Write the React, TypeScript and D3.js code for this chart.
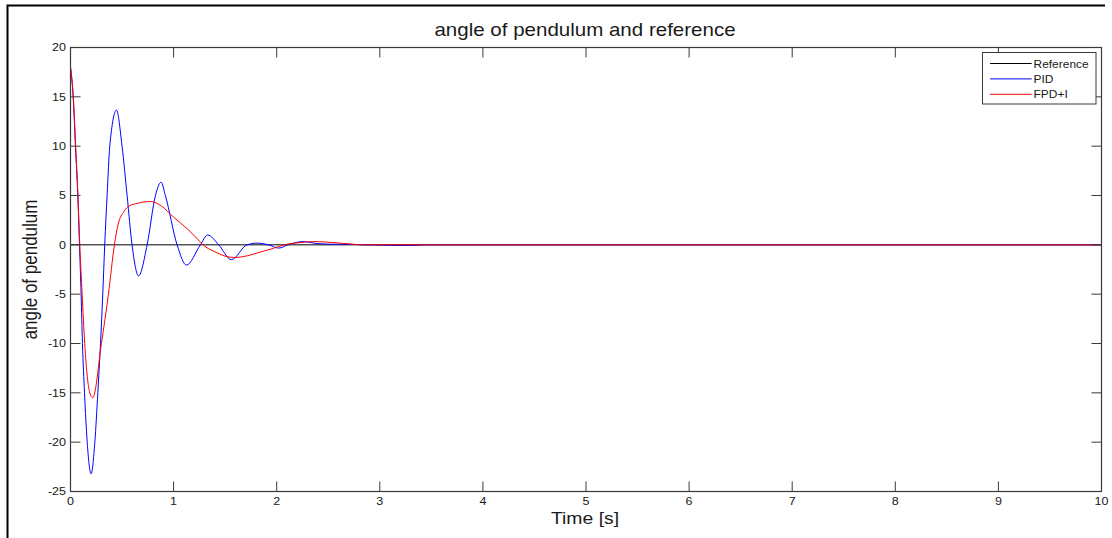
import React from "react";
import * as d3 from "d3";

const title = "angle of pendulum and reference";
const xLabel = "Time [s]";
const yLabel = "angle of pendulum";
const xTicks = [0, 1, 2, 3, 4, 5, 6, 7, 8, 9, 10];
const yTicks = [-25, -20, -15, -10, -5, 0, 5, 10, 15, 20];
const legendNames = ["Reference", "PID", "FPD+I"];

const refTime = [0, 10];
const refAngle = [0, 0];

const pidTime = [0, 0.026, 0.048, 0.071, 0.087, 0.103, 0.116, 0.136, 0.162, 0.2, 0.236, 0.265, 0.291, 0.313, 0.332, 0.355, 0.381, 0.446, 0.5, 0.549, 0.597, 0.66, 0.743, 0.824, 0.879, 0.92, 1.034, 1.124, 1.26, 1.33, 1.437, 1.56, 1.712, 1.81, 1.92, 2.02, 2.11, 2.255, 2.4, 2.55, 2.7, 2.85, 3.0, 3.1, 3.35, 3.42, 10];
const pidAngle = [18, 15, 10, 5, 0, -5, -10, -15, -20, -23.2, -20, -15, -10, -5, 0, 5, 10, 13.65, 10, 5, 0, -3.15, 0, 5, 6.35, 5, 0, -2.05, 0, 1.0, 0, -1.5, 0, 0.17, 0, -0.33, 0, 0.33, 0.12, 0.06, 0.05, 0.0, -0.03, -0.06, -0.06, 0, 0];

const fpdTime = [0, 0.027, 0.05, 0.072, 0.09, 0.113, 0.138, 0.187, 0.216, 0.3, 0.368, 0.426, 0.46, 0.52, 0.57, 0.646, 0.775, 0.88, 1.0, 1.13, 1.24, 1.285, 1.4, 1.52, 1.59, 1.72, 1.85, 1.97, 2.07, 2.2, 2.36, 2.52, 2.68, 2.83, 10];
const fpdAngle = [18, 15, 10, 5, 0, -5, -10, -15, -15.5, -10, -5, 0, 2, 3.4, 3.95, 4.2, 4.39, 3.95, 2.8, 1.65, 0.5, 0, -0.7, -1.2, -1.28, -1.1, -0.7, -0.35, 0, 0.2, 0.33, 0.25, 0.12, 0, 0];

const W = 1112;
const H = 538;
const FONT = "'Liberation Sans', Arial, sans-serif";
const SX = 1.14;

function zip(t: number[], v: number[]): [number, number][] {
  return t.map((d, i) => [d, v[i]]);
}

function T(props: { x: number; y: number; size: number; anchor?: string; children: React.ReactNode; rotate?: boolean; fill?: string }) {
  const { x, y, size, anchor = "start", children, rotate, fill = "#1a1a1a" } = props;
  const tr = rotate
    ? `translate(${x},${y}) rotate(-90) scale(1,${SX})`
    : `translate(${x},${y}) scale(${SX},1)`;
  return (
    <text transform={tr} fontSize={size} fontFamily={FONT} textAnchor={anchor} fill={fill}>
      {children}
    </text>
  );
}

export default function App() {
  const left = 70.5, right = 1101.5, top = 47.5, bottom = 491.5;
  const x = d3.scaleLinear().domain([0, 10]).range([left, right]);
  const y = d3.scaleLinear().domain([-25, 20]).range([bottom, top]);
  const line = d3
    .line<[number, number]>()
    .x((d) => x(d[0]))
    .y((d) => y(d[1]))
    .curve(d3.curveMonotoneX);

  const series = [
    { name: legendNames[0], color: "#000000", data: zip(refTime, refAngle) },
    { name: legendNames[1], color: "#0000ff", data: zip(pidTime, pidAngle) },
    { name: legendNames[2], color: "#ff0000", data: zip(fpdTime, fpdAngle) },
  ];

  const axisColor = "#3a3a3a";
  const tickLen = 10;

  return (
    <svg width={W} height={H} style={{ position: "absolute", left: 0, top: 0, background: "#fff" }}>
      <rect x={0} y={0} width={W} height={H} fill="#fff" />
      {/* outer window frame */}
      <path d={`M7.5,${H} L7.5,5.5 L1105,5.5`} fill="none" stroke="#000" strokeWidth={2} />

      <T x={585} y={36} size={18} anchor="middle">{title}</T>

      <defs>
        <clipPath id="plotclip">
          <rect x={left} y={top} width={right - left} height={bottom - top} />
        </clipPath>
      </defs>

      {/* data */}
      <g clipPath="url(#plotclip)">
        {series.map((s) => (
          <path key={s.name} d={line(s.data) || ""} fill="none" stroke={s.color} strokeWidth={1} />
        ))}
      </g>

      {/* axes box */}
      <rect x={left} y={top} width={right - left} height={bottom - top} fill="none" stroke={axisColor} strokeWidth={1.2} />

      {/* x ticks */}
      {xTicks.map((t) => (
        <g key={"x" + t}>
          <line x1={x(t)} x2={x(t)} y1={bottom} y2={bottom - tickLen} stroke={axisColor} strokeWidth={1} />
          <line x1={x(t)} x2={x(t)} y1={top} y2={top + tickLen} stroke={axisColor} strokeWidth={1} />
          <T x={x(t)} y={505} size={11} anchor="middle">{t}</T>
        </g>
      ))}
      {/* y ticks */}
      {yTicks.map((t) => (
        <g key={"y" + t}>
          <line x1={left} x2={left + tickLen} y1={y(t)} y2={y(t)} stroke={axisColor} strokeWidth={1} />
          <line x1={right} x2={right - tickLen} y1={y(t)} y2={y(t)} stroke={axisColor} strokeWidth={1} />
          <T x={66} y={y(t) + 3.8} size={11} anchor="end">{t}</T>
        </g>
      ))}

      <T x={585} y={524} size={17} anchor="middle">{xLabel}</T>
      <T x={37} y={(top + bottom) / 2} size={17} anchor="middle" rotate>{yLabel}</T>

      {/* legend */}
      <g>
        <rect x={982.5} y={52.5} width={113.5} height={51.5} fill="#fff" stroke={axisColor} strokeWidth={1} />
        {series.map((s, i) => (
          <g key={"lg" + s.name}>
            <line x1={990} x2={1031.7} y1={63.5 + i * 15.4} y2={63.5 + i * 15.4} stroke={s.color} strokeWidth={1} />
            <T x={1033.5} y={67.5 + i * 15.4} size={10.5}>{s.name}</T>
          </g>
        ))}
      </g>
    </svg>
  );
}
